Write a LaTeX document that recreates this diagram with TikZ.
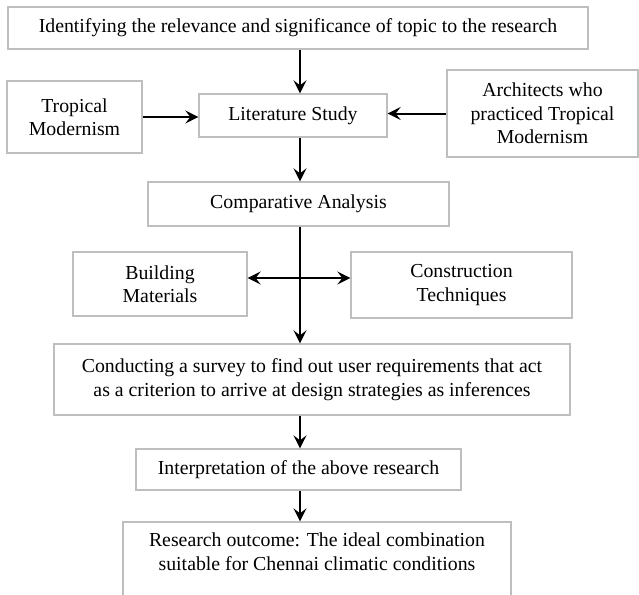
\documentclass[tikz,border=0pt]{standalone}
\usepackage{fontspec}
\setmainfont{Liberation Serif}
\usetikzlibrary{arrows.meta}
\definecolor{boxgray}{RGB}{190,190,190}
\tikzset{
  box/.style={draw=boxgray, line width=1.3pt, inner sep=0pt, align=center,
    font={\fontsize{19.8pt}{23.5pt}\selectfont}},
  conn/.style={line width=2pt, -{Stealth[length=13pt,width=13pt,inset=5pt]}},
  conn2/.style={line width=2pt, {Stealth[length=13pt,width=13pt,inset=5pt]}-{Stealth[length=13pt,width=13pt,inset=5pt]}}
}
\begin{document}
\begin{tikzpicture}[x=1pt,y=-1pt]
\useasboundingbox (0,0) rectangle (639,594);
\clip (0,0) rectangle (639,594);
\node[box, minimum width=580pt, minimum height=42pt] (top) at (298,28) {Identifying the relevance and significance of topic to the research};
\node[box, minimum width=135pt, minimum height=72pt] (trop) at (74.5,117) {Tropical\\Modernism};
\node[box, minimum width=188pt, minimum height=43pt] (lit) at (293,115.5) {Literature Study};
\node[box, minimum width=191pt, minimum height=87pt] (arch) at (542.5,113.5) {Architects who\\practiced Tropical\\Modernism};
\node[box, minimum width=301pt, minimum height=44pt] (comp) at (298.5,204) {Comparative Analysis};
\node[box, minimum width=174pt, minimum height=64pt] (build) at (160,284) {Building\\Materials};
\node[box, minimum width=221pt, minimum height=66pt] (constr) at (461.5,285) {Construction\\Techniques};
\node[box, minimum width=516pt, minimum height=71pt] (survey) at (312,379.5) {Conducting a survey to find out user requirements that act\\as a criterion to arrive at design strategies as inferences};
\node[box, minimum width=325pt, minimum height=41pt] (interp) at (298.5,469.5) {Interpretation of the above research};
\node[box, minimum width=388pt, minimum height=90pt] (outc) at (317,567) {Research outcome: The ideal combination\\suitable for Chennai climatic conditions\\\strut};
\coordinate (ax) at (300,0);
\coordinate (cr) at (300,278);
\draw[conn] (top.south -| ax) -- (lit.north -| ax);
\draw[conn] (trop.east) -- (trop.east -| lit.west);
\draw[conn] (arch.west) -- (arch.west -| lit.east);
\draw[conn] (lit.south -| ax) -- (comp.north -| ax);
\draw[conn] (comp.south -| ax) -- (survey.north -| ax);
\draw[conn2] (cr -| build.east) -- (cr -| constr.west);
\draw[conn] (survey.south -| ax) -- (interp.north -| ax);
\draw[conn] (interp.south -| ax) -- (outc.north -| ax);
\end{tikzpicture}
\end{document}
